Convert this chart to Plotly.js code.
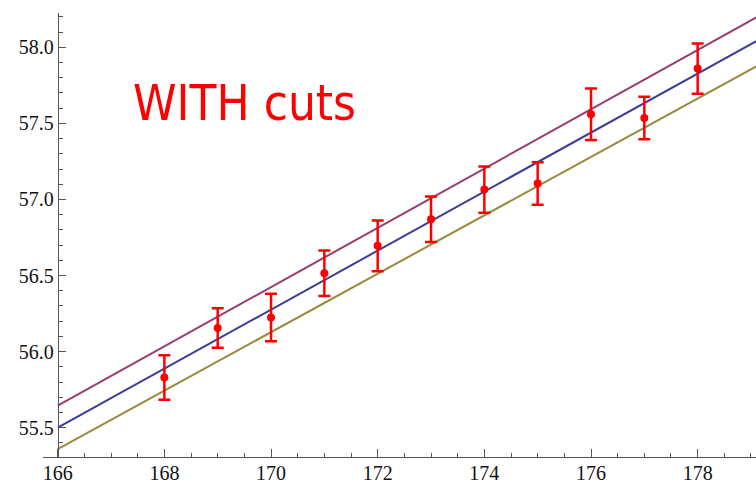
<!DOCTYPE html>
<html>
<head>
<meta charset="utf-8">
<script src="https://cdn.plot.ly/plotly-3.0.1.min.js"></script>
<style>
  html, body { margin: 0; padding: 0; background: #fff; }
  #chart { width: 756px; height: 483px; }
</style>
</head>
<body>
<div id="chart"></div>
<script>
// Measured points with symmetric uncertainties
const xPoints = [168, 169, 170, 171, 172, 173, 174, 175, 176, 177, 178];
const yPoints = [55.83, 56.155, 56.225, 56.515, 56.695, 56.87, 57.065, 57.105, 57.56, 57.535, 57.86];
const yErrors = [0.147, 0.13, 0.156, 0.15, 0.166, 0.15, 0.152, 0.14, 0.17, 0.14, 0.165];

// Fitted straight lines (central, upper and lower bands), given by their end values
const lineX = [166, 179.1];
const upperLine = [55.645, 58.196];
const centralLine = [55.5, 58.041];
const lowerLine = [55.36, 57.875];

const xTicks = [166, 168, 170, 172, 174, 176, 178];
const yTicks = [55.5, 56.0, 56.5, 57.0, 57.5, 58.0];
const yTickText = ["55.5", "56.0", "56.5", "57.0", "57.5", "58.0"];

const xRange = [165.724, 179.094];
const yRange = [55.3075, 58.2254];

const tickFont = { family: "Liberation Serif, Times New Roman, serif", size: 20, color: "#111" };

const traces = [
  { x: lineX, y: upperLine, mode: "lines", line: { color: "#993D71", width: 2 }, hoverinfo: "skip" },
  { x: lineX, y: centralLine, mode: "lines", line: { color: "#3D3D99", width: 2 }, hoverinfo: "skip" },
  { x: lineX, y: lowerLine, mode: "lines", line: { color: "#998B3D", width: 2 }, hoverinfo: "skip" },
  {
    x: xPoints, y: yPoints, mode: "markers",
    marker: { color: "#FF0000", size: 8 },
    error_y: { type: "data", array: yErrors, visible: true, color: "#FF0000", thickness: 2.5, width: 6 }
  }
];

const layout = {
  width: 756, height: 483,
  margin: { l: 43, r: 0, t: 13, b: 26 },
  paper_bgcolor: "#fff", plot_bgcolor: "#fff",
  showlegend: false,
  xaxis: {
    range: xRange, showgrid: false, zeroline: false,
    showline: true, linecolor: "#555", linewidth: 1.3,
    tickmode: "array", tickvals: xTicks, ticktext: xTicks.map(String),
    ticks: "inside", ticklen: 8, tickcolor: "#555", tickwidth: 1,
    minor: { dtick: 0.5, tick0: 166, ticks: "inside", ticklen: 4, tickcolor: "#555", tickwidth: 1 },
    ticklabelstandoff: -2,
    tickfont: tickFont
  },
  yaxis: {
    range: yRange, showgrid: false, zeroline: false,
    anchor: "free", position: (166 - xRange[0]) / (xRange[1] - xRange[0]),
    showline: true, linecolor: "#555", linewidth: 1.3,
    tickmode: "array", tickvals: yTicks, ticktext: yTickText,
    ticks: "inside", ticklen: 7, tickcolor: "#555", tickwidth: 1,
    minor: { dtick: 0.1, tick0: 55.5, ticks: "inside", ticklen: 4, tickcolor: "#555", tickwidth: 1 },
    tickfont: tickFont
  },
  annotations: [{
    text: "WITH cuts", xref: "x", yref: "y", x: 167.37, y: 57.63,
    xanchor: "left", yanchor: "middle", showarrow: false,
    font: { family: "DejaVu Sans Condensed, DejaVu Sans, sans-serif", size: 49, color: "#FF0000" }
  }]
};

Plotly.newPlot("chart", traces, layout, { displayModeBar: false, staticPlot: true });
</script>
</body>
</html>
